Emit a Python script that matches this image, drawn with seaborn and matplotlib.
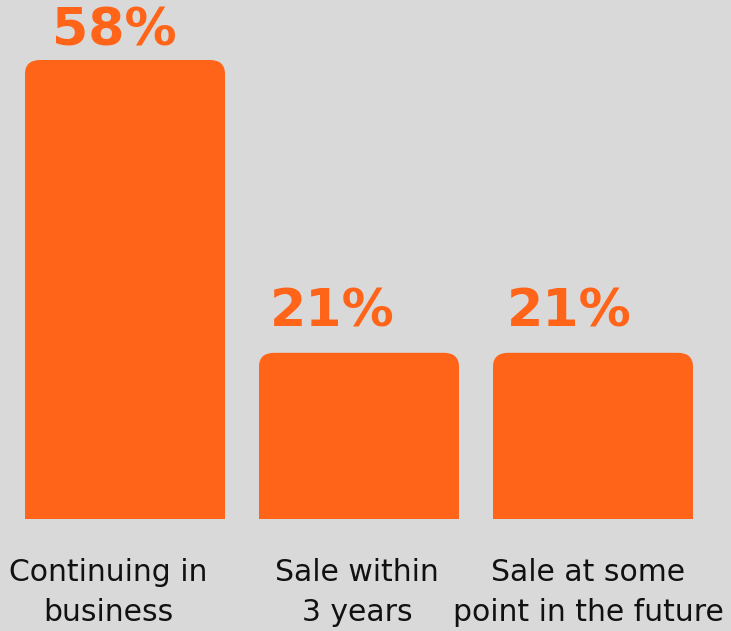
import matplotlib
matplotlib.use("Agg")
import matplotlib.pyplot as plt
import matplotlib.transforms as mtransforms
import seaborn as sns
import pandas as pd
from matplotlib.patches import FancyBboxPatch, Rectangle

categories = ["Continuing in\nbusiness", "Sale within\n3 years", "Sale at some\npoint in the future"]
values = [58, 21, 21]
value_labels = ["58%", "21%", "21%"]

BG = "#d9d9d9"
ORANGE = "#ff6419"

sns.set_theme(style="white")
plt.rcParams['font.family'] = ['DejaVu Sans']

fig = plt.figure(figsize=(7.31, 6.31), dpi=100, facecolor=BG)
ax = fig.add_axes([0, 112/631, 1, 519/631])
ax.set_facecolor(BG)

df = pd.DataFrame({"cat": categories, "val": values})
sns.barplot(data=df, x="cat", y="val", color=ORANGE, width=200/234, ax=ax,
            saturation=1, edgecolor="none")

ax.set_xlim(-125/234, (731-125)/234)
ax.set_ylim(0, 519/7.914)

# replace bars with top-rounded versions
r = 0.065
aspect = (14/7.914) / r
for p in list(ax.patches):
    x, y = p.get_x(), p.get_y()
    w, h = p.get_width(), p.get_height()
    p.set_visible(False)
    ax.add_patch(FancyBboxPatch((x, y), w, h, boxstyle=f"round,pad=0,rounding_size={r}",
                                mutation_aspect=aspect, fc=ORANGE, ec="none"))
    ax.add_patch(Rectangle((x, y), w, h/2, fc=ORANGE, ec="none"))

label_dx = [-0.045, -0.115, -0.10]
label_dy = [1.8, 3.3, 3.3]
for i, (v, t) in enumerate(zip(values, value_labels)):
    ax.text(i + label_dx[i], v + label_dy[i], t, ha="center", va="baseline",
            fontsize=37.5, fontweight="bold", color=ORANGE)

ax.set_xlabel("")
ax.set_ylabel("")
ax.set_yticks([])
ax.tick_params(axis="x", length=0, pad=28, labelsize=21.5, labelcolor="#111111")
tick_dx_px = [-17, -2, -5]
for lbl, dx in zip(ax.get_xticklabels(), tick_dx_px):
    lbl.set_linespacing(1.5)
    lbl.set_verticalalignment("top")
    lbl.set_transform(lbl.get_transform() +
                      mtransforms.ScaledTranslation(dx/100, 0, fig.dpi_scale_trans))
for s in ax.spines.values():
    s.set_visible(False)

fig.savefig("out.png", dpi=100, facecolor=BG)
